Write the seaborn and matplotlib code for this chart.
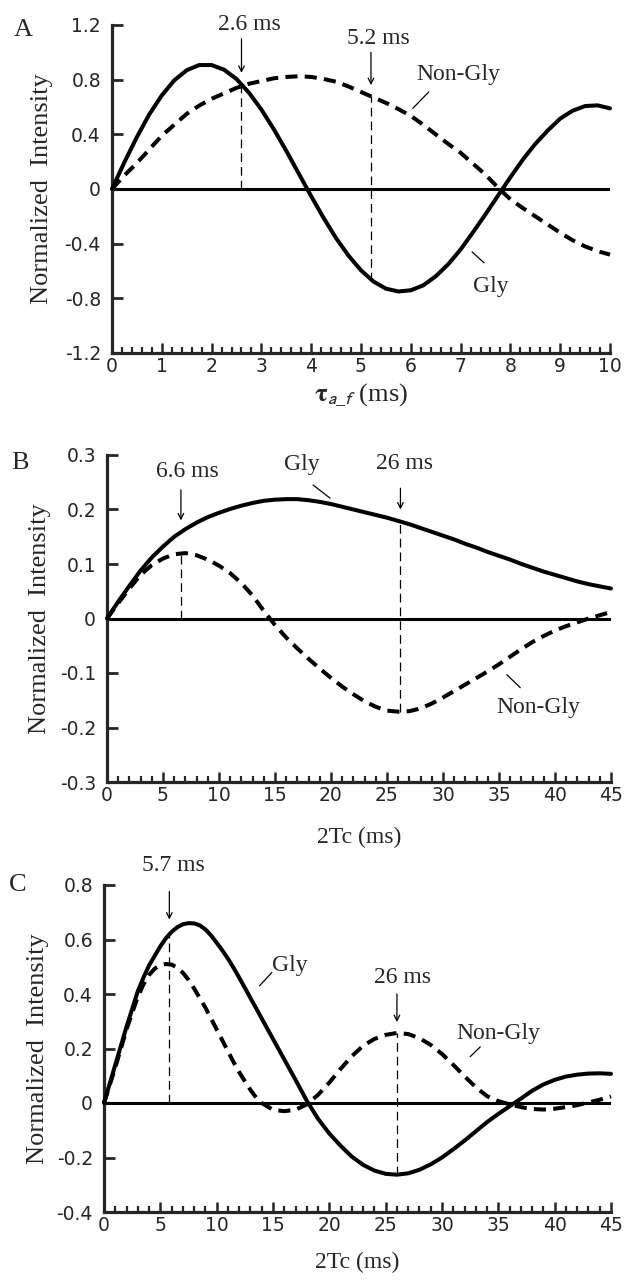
import numpy as np
import pandas as pd
import matplotlib
matplotlib.use('Agg')
import matplotlib.pyplot as plt
from matplotlib.ticker import MultipleLocator
import seaborn as sns

# Panel A: tau_a_f (ms)
a_x = [0, 0.25, 0.5, 0.75, 1.0, 1.25, 1.5, 1.75, 2.0, 2.25, 2.5, 2.75, 3.0, 3.25, 3.5, 3.75, 4.0, 4.25, 4.5, 4.75,
       5.0, 5.25, 5.5, 5.75, 6.0, 6.25, 6.5, 6.75, 7.0, 7.25, 7.5, 7.75, 8.0, 8.25, 8.5, 8.75, 9.0, 9.25, 9.5, 9.75, 10.0]
a_gly = [0, 0.197, 0.38, 0.547, 0.685, 0.795, 0.869, 0.907, 0.907, 0.873, 0.805, 0.705, 0.581, 0.437, 0.279, 0.113,
         -0.053, -0.212, -0.36, -0.488, -0.595, -0.677, -0.729, -0.75, -0.741, -0.705, -0.639, -0.551, -0.443, -0.316,
         -0.185, -0.049, 0.086, 0.215, 0.33, 0.428, 0.515, 0.573, 0.607, 0.612, 0.59]
a_non = [0, 0.1, 0.19, 0.29, 0.39, 0.47, 0.55, 0.61, 0.66, 0.7, 0.74, 0.77, 0.79, 0.81, 0.82, 0.825, 0.82, 0.805,
         0.785, 0.75, 0.71, 0.67, 0.63, 0.585, 0.535, 0.47, 0.4, 0.33, 0.265, 0.185, 0.105, 0.01, -0.075, -0.14,
         -0.2, -0.26, -0.32, -0.375, -0.42, -0.455, -0.48]

# Panel B: 2Tc (ms)
b_x = [0, 1, 2, 3, 4, 5, 6, 7, 8, 9, 10, 11, 12, 13, 14, 15, 16, 17, 18, 19, 20, 21, 22, 23, 24, 25, 26, 27, 28,
       29, 30, 31, 32, 33, 34, 35, 36, 37, 38, 39, 40, 41, 42, 43, 44, 45]
b_gly = [0, 0.031, 0.06, 0.088, 0.112, 0.132, 0.15, 0.164, 0.176, 0.186, 0.194, 0.201, 0.207, 0.212, 0.216, 0.218,
         0.219, 0.219, 0.217, 0.214, 0.21, 0.205, 0.2, 0.195, 0.19, 0.185, 0.179, 0.173, 0.166, 0.159, 0.152, 0.145,
         0.137, 0.13, 0.122, 0.115, 0.108, 0.1, 0.093, 0.086, 0.08, 0.074, 0.068, 0.063, 0.059, 0.055]
b_non = [0, 0.028, 0.055, 0.08, 0.098, 0.11, 0.118, 0.12, 0.116, 0.108, 0.097, 0.083, 0.065, 0.042, 0.014, -0.012,
         -0.035, -0.055, -0.074, -0.092, -0.109, -0.125, -0.139, -0.152, -0.162, -0.169, -0.171, -0.17, -0.165,
         -0.156, -0.145, -0.133, -0.121, -0.109, -0.097, -0.084, -0.07, -0.056, -0.043, -0.032, -0.022, -0.014,
         -0.007, 0.0, 0.006, 0.012]

# Panel C: 2Tc (ms)
c_x = [0, 0.5, 1, 1.5, 2, 2.5, 3, 3.5, 4, 4.5, 5, 5.5, 6, 6.5, 7, 7.5, 8, 8.5, 9, 9.5, 10, 10.5, 11, 11.5, 12, 12.5,
       13, 13.5, 14, 15, 16, 17, 18, 19, 20, 21, 22, 23, 24, 25, 26, 27, 28, 29, 30, 31, 32, 33, 34, 35, 36, 37, 38,
       39, 40, 41, 42, 43, 44, 45]
c_gly = [0, 0.07, 0.14, 0.21, 0.28, 0.345, 0.41, 0.46, 0.505, 0.54, 0.575, 0.605, 0.628, 0.645, 0.656, 0.66, 0.659,
         0.652, 0.637, 0.615, 0.588, 0.56, 0.53, 0.496, 0.46, 0.423, 0.385, 0.348, 0.31, 0.235, 0.16, 0.085, 0.008,
         -0.058, -0.112, -0.157, -0.197, -0.227, -0.248, -0.26, -0.263, -0.258, -0.245, -0.225, -0.2, -0.17, -0.138,
         -0.104, -0.07, -0.04, -0.012, 0.016, 0.045, 0.068, 0.085, 0.097, 0.104, 0.108, 0.109, 0.107]
c_non = [0, 0.065, 0.13, 0.2, 0.27, 0.33, 0.39, 0.435, 0.47, 0.493, 0.506, 0.51, 0.508, 0.497, 0.478, 0.452, 0.42,
         0.385, 0.35, 0.31, 0.27, 0.23, 0.19, 0.15, 0.113, 0.08, 0.048, 0.02, 0.0, -0.025, -0.03, -0.025, -0.005,
         0.03, 0.075, 0.125, 0.172, 0.21, 0.235, 0.25, 0.257, 0.253, 0.238, 0.213, 0.18, 0.14, 0.098, 0.058, 0.025,
         0.007, -0.005, -0.015, -0.022, -0.024, -0.021, -0.015, -0.008, 0.002, 0.012, 0.024]

sns.set_style('ticks')
plt.rcParams['font.family'] = ['Liberation Serif', 'DejaVu Serif']
plt.rcParams['mathtext.fontset'] = 'stix'

W, H = 624, 1281
fig = plt.figure(figsize=(W / 100, H / 100), dpi=100)

serif = ['Liberation Serif', 'DejaVu Serif']
sans = ['DejaVu Sans']


def make_df(x, gly, non):
    return pd.concat([
        pd.DataFrame({'x': x, 'y': gly, 'kind': 'Gly'}),
        pd.DataFrame({'x': x, 'y': non, 'kind': 'Non-Gly'}),
    ])


def setup(ax, xlim, ylim, xmaj, xmin, yticks, ylabels, xlab_y, ylab_x):
    ax.set_xlim(*xlim)
    ax.set_ylim(*ylim)
    ax.axhline(0, color='black', lw=2.2, zorder=1)
    sns.despine(ax=ax)
    for s in ['left', 'bottom']:
        ax.spines[s].set_linewidth(2.3)
    ax.xaxis.set_major_locator(MultipleLocator(xmaj))
    ax.xaxis.set_minor_locator(MultipleLocator(xmin))
    ax.set_yticks(yticks)
    ax.set_yticklabels(ylabels)
    ax.tick_params(axis='x', which='major', direction='in', length=7, width=1.8, labelsize=13.5, pad=3)
    ax.tick_params(axis='x', which='minor', direction='in', length=4, width=1.6)
    ax.tick_params(axis='y', which='major', direction='in', length=8, width=2, labelsize=13.5, pad=8)
    for lab in ax.get_xticklabels() + ax.get_yticklabels():
        lab.set_fontfamily(sans)
    ax.set_ylabel('Normalized  Intensity', fontsize=19, family=serif, va='center')
    ax.yaxis.set_label_coords(ylab_x, 0.5)
    ax.xaxis.set_label_coords(0.5, xlab_y)


def curves(ax, df):
    sns.lineplot(data=df, x='x', y='y', style='kind', style_order=['Gly', 'Non-Gly'],
                 dashes={'Gly': '', 'Non-Gly': (3.0, 1.8)}, color='black', lw=2.9,
                 legend=False, ax=ax, zorder=3)
    for ln in ax.lines:
        ln.set_clip_on(False)


def vline(ax, x, y0, y1):
    ax.plot([x, x], [y0, y1], color='black', lw=0.9, dashes=(7, 4), zorder=2)


def arrow(ax, x, y0, y1):
    ax.annotate('', xy=(x, y1), xytext=(x, y0),
                arrowprops=dict(arrowstyle='->', lw=0.9, color='black', shrinkA=0, shrinkB=0))


def leader(ax, p0, p1):
    ax.plot([p0[0], p1[0]], [p0[1], p1[1]], color='black', lw=0.9)


txt = dict(fontsize=17, family=serif, ha='center', va='center')

# ---------------- Panel A ----------------
axA = fig.add_axes([112 / W, 1 - 353 / H, 498 / W, 328 / H])
curves(axA, make_df(a_x, a_gly, a_non))
axA.set_xlabel(r'$\mathbf{\tau}_{\mathsf{a\_f}}$ (ms)', fontsize=19, family=serif, va='center')
setup(axA, (0, 10), (-1.2, 1.2), 1, 0.2, [-1.2, -0.8, -0.4, 0, 0.4, 0.8, 1.2],
      ['-1.2', '-0.8', '-0.4', '0', '0.4', '0.8', '1.2'], -0.128, -0.14)
vline(axA, 2.6, 0, 0.76)
vline(axA, 5.2, -0.67, 0.68)
arrow(axA, 2.6, 1.1, 0.85)
arrow(axA, 5.2, 1.0, 0.76)
axA.text(2.75, 1.2, '2.6 ms', **txt)
axA.text(5.35, 1.1, '5.2 ms', **txt)
axA.text(6.95, 0.84, 'Non-Gly', **txt)
leader(axA, (6.36, 0.71), (6.04, 0.59))
axA.text(7.6, -0.71, 'Gly', **txt)
leader(axA, (7.47, -0.54), (7.23, -0.46))
fig.text(23 / W, 1 - 30 / H, 'A', fontsize=19, family=serif, ha='center', va='center')

# ---------------- Panel B ----------------
axB = fig.add_axes([107 / W, 1 - 782 / H, 504 / W, 327 / H])
curves(axB, make_df(b_x, b_gly, b_non))
axB.set_xlabel('2Tc (ms)', fontsize=17, family=serif, va='center')
setup(axB, (0, 45), (-0.3, 0.3), 5, 1, [-0.3, -0.2, -0.1, 0, 0.1, 0.2, 0.3],
      ['-0.3', '-0.2', '-0.1', '0', '0.1', '0.2', '0.3'], -0.171, -0.133)
vline(axB, 6.6, 0, 0.118)
vline(axB, 26.2, -0.171, 0.179)
arrow(axB, 6.6, 0.236, 0.18)
arrow(axB, 26.2, 0.239, 0.2)
axB.text(7.2, 0.27, '6.6 ms', **txt)
axB.text(26.6, 0.285, '26 ms', **txt)
axB.text(17.4, 0.282, 'Gly', **txt)
leader(axB, (18.4, 0.245), (19.9, 0.221))
axB.text(38.5, -0.164, 'Non-Gly', **txt)
leader(axB, (35.7, -0.103), (36.9, -0.127))
fig.text(20 / W, 1 - 463 / H, 'B', fontsize=19, family=serif, ha='center', va='center')

# ---------------- Panel C ----------------
axC = fig.add_axes([104 / W, 1 - 1212 / H, 507 / W, 327 / H])
curves(axC, make_df(c_x, c_gly, c_non))
axC.set_xlabel('2Tc (ms)', fontsize=17, family=serif, va='center')
setup(axC, (0, 45), (-0.4, 0.8), 5, 1, [-0.4, -0.2, 0, 0.2, 0.4, 0.6, 0.8],
      ['-0.4', '-0.2', '0', '0.2', '0.4', '0.6', '0.8'], -0.153, -0.13)
vline(axC, 5.8, 0, 0.62)
vline(axC, 26.0, -0.263, 0.257)
arrow(axC, 5.8, 0.776, 0.673)
arrow(axC, 26.0, 0.40, 0.297)
axC.text(6.2, 0.87, '5.7 ms', **txt)
axC.text(26.5, 0.46, '26 ms', **txt)
axC.text(16.5, 0.503, 'Gly', **txt)
leader(axC, (14.9, 0.479), (13.8, 0.43))
axC.text(35.0, 0.255, 'Non-Gly', **txt)
leader(axC, (33.4, 0.206), (32.5, 0.17))
fig.text(18 / W, 1 - 885 / H, 'C', fontsize=19, family=serif, ha='center', va='center')

fig.savefig('out.png', dpi=100)
